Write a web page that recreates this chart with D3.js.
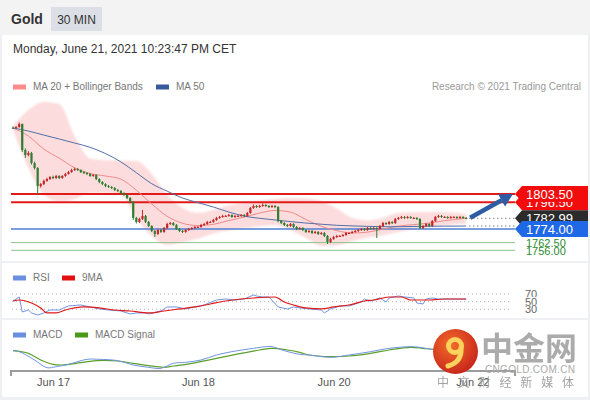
<!DOCTYPE html>
<html><head><meta charset="utf-8">
<script src="https://cdn.jsdelivr.net/npm/d3@7"></script>
<style>body{margin:0;background:#eef0f3;}svg{display:block;font-family:"Liberation Sans",Arial,sans-serif;}</style>
</head><body><svg id="c" width="590" height="400"></svg>
<script>
// ---------- DATA ----------
const open=[1859.5,1859.2,1860.0,1862.5,1840.6,1836.4,1838.1,1829.6,1825.4,1810.2,
1811.9,1814.5,1816.1,1817.8,1817.0,1818.7,1817.0,1818.7,1820.4,1822.0,
1823.7,1824.6,1823.7,1822.0,1821.2,1820.4,1818.7,1819.5,1816.1,1813.6,
1811.9,1810.2,1809.4,1808.6,1806.9,1806.0,1804.3,1802.7,1800.1,1796.8,
1783.3,1779.9,1782.4,1785.0,1779.9,1776.5,1772.3,1769.8,1773.1,1771.5,
1774.8,1778.2,1779.0,1777.4,1774.0,1772.3,1771.5,1773.1,1774.0,1774.8,
1775.7,1775.7,1777.4,1778.2,1779.9,1779.9,1781.6,1783.3,1784.1,1785.0,
1785.0,1785.8,1784.1,1785.0,1785.0,1785.8,1785.0,1787.5,1791.7,1793.4,
1792.5,1793.4,1794.2,1793.4,1792.5,1793.4,1792.5,1780.7,1779.0,1777.4,
1776.5,1778.2,1775.7,1774.0,1774.8,1773.1,1771.5,1772.3,1770.6,1771.5,
1769.8,1770.6,1768.1,1763.0,1765.6,1767.2,1768.1,1768.1,1768.9,1770.6,
1770.6,1771.5,1772.3,1773.1,1774.0,1773.1,1774.8,1774.0,1774.8,1774.0,
1776.5,1779.0,1778.2,1779.9,1779.0,1782.4,1783.3,1784.1,1783.3,1784.1,
1783.3,1783.3,1782.4,1774.8,1776.5,1778.2,1776.5,1780.7,1784.1,1785.0,
1784.1,1784.1,1783.3,1784.1,1784.1,1783.3,1784.1,1783.3];
const high=[1860.4,1860.8,1863.9,1863.0,1842.0,1839.6,1839.0,1830.8,1826.2,1812.8,
1815.6,1817.2,1818.6,1819.0,1819.6,1819.4,1819.5,1821.3,1823.0,1824.8,
1825.7,1825.4,1824.3,1822.9,1822.0,1821.1,1820.4,1820.1,1816.8,1814.4,
1812.6,1811.1,1810.2,1809.3,1807.7,1806.8,1805.0,1803.4,1800.9,1797.6,
1784.2,1783.5,1790.0,1785.8,1780.7,1777.2,1773.0,1774.0,1774.0,1775.7,
1779.2,1780.0,1779.8,1778.2,1774.8,1773.1,1774.0,1774.9,1775.7,1776.5,
1776.6,1778.3,1779.1,1780.8,1780.8,1782.5,1784.2,1785.0,1785.9,1785.9,
1786.7,1786.5,1785.9,1785.8,1786.6,1786.5,1788.4,1792.6,1794.6,1794.2,
1794.3,1795.5,1795.0,1794.1,1794.3,1794.2,1793.2,1781.5,1779.8,1778.2,
1779.1,1778.9,1776.5,1775.7,1775.6,1773.9,1773.2,1773.1,1772.4,1772.2,
1771.5,1771.4,1768.9,1766.5,1768.1,1769.0,1768.9,1769.8,1771.5,1771.4,
1772.4,1773.2,1774.0,1774.9,1774.8,1775.7,1775.6,1775.6,1775.5,1777.4,
1779.9,1779.8,1780.8,1780.6,1783.3,1784.2,1785.0,1784.9,1785.0,1784.9,
1784.1,1784.0,1783.1,1777.4,1779.1,1778.9,1781.6,1785.0,1785.9,1785.8,
1784.9,1784.8,1785.0,1784.9,1784.8,1785.0,1784.8,1784.0];
const low=[1858.4,1858.6,1859.5,1838.9,1833.9,1835.2,1828.4,1824.2,1803.5,1808.9,
1811.0,1813.8,1815.3,1816.0,1816.2,1816.1,1816.3,1818.0,1819.8,1821.4,
1823.0,1822.9,1821.2,1820.3,1819.5,1817.9,1818.0,1815.2,1812.6,1811.0,
1809.3,1808.6,1807.7,1806.0,1805.1,1803.4,1801.8,1799.2,1795.7,1781.6,
1778.6,1779.0,1781.6,1779.0,1775.6,1771.4,1767.2,1769.0,1770.6,1770.8,
1774.0,1777.4,1776.6,1773.1,1771.4,1770.6,1770.8,1772.3,1773.2,1774.0,
1774.8,1775.0,1776.6,1777.5,1779.0,1779.2,1780.9,1782.5,1783.4,1784.2,
1784.3,1783.3,1783.4,1784.1,1784.2,1784.1,1784.3,1786.8,1791.0,1791.7,
1791.8,1792.7,1792.6,1791.7,1791.8,1791.6,1779.6,1778.1,1776.5,1775.6,
1775.8,1774.8,1773.1,1773.2,1772.2,1770.6,1770.7,1769.7,1769.8,1768.9,
1769.0,1767.2,1761.3,1762.2,1764.8,1766.4,1767.3,1767.4,1768.2,1769.8,
1769.9,1770.8,1771.6,1772.4,1772.3,1772.4,1773.2,1773.3,1766.4,1773.3,
1775.8,1777.4,1777.5,1778.2,1778.3,1781.7,1782.6,1782.5,1782.6,1782.5,
1782.5,1781.6,1774.0,1774.0,1775.8,1775.6,1775.8,1780.0,1783.4,1783.3,
1783.3,1782.5,1782.6,1783.3,1782.5,1782.6,1782.5,1782.2];
const close=[1859.2,1860.0,1862.5,1840.6,1836.4,1838.1,1829.6,1825.4,1810.2,1811.9,
1814.5,1816.1,1817.8,1817.0,1818.7,1817.0,1818.7,1820.4,1822.0,1823.7,
1824.6,1823.7,1822.0,1821.2,1820.4,1818.7,1819.5,1816.1,1813.6,1811.9,
1810.2,1809.4,1808.6,1806.9,1806.0,1804.3,1802.7,1800.1,1796.8,1783.3,
1779.9,1782.4,1785.0,1779.9,1776.5,1772.3,1769.8,1773.1,1771.5,1774.8,
1778.2,1779.0,1777.4,1774.0,1772.3,1771.5,1773.1,1774.0,1774.8,1775.7,
1775.7,1777.4,1778.2,1779.9,1779.9,1781.6,1783.3,1784.1,1785.0,1785.0,
1785.8,1784.1,1785.0,1785.0,1785.8,1785.0,1787.5,1791.7,1793.4,1792.5,
1793.4,1794.2,1793.4,1792.5,1793.4,1792.5,1780.7,1779.0,1777.4,1776.5,
1778.2,1775.7,1774.0,1774.8,1773.1,1771.5,1772.3,1770.6,1771.5,1769.8,
1770.6,1768.1,1763.0,1765.6,1767.2,1768.1,1768.1,1768.9,1770.6,1770.6,
1771.5,1772.3,1773.1,1774.0,1773.1,1774.8,1774.0,1774.8,1774.0,1776.5,
1779.0,1778.2,1779.9,1779.0,1782.4,1783.3,1784.1,1783.3,1784.1,1783.3,
1783.3,1782.4,1774.8,1776.5,1778.2,1776.5,1780.7,1784.1,1785.0,1784.1,
1784.1,1783.3,1784.1,1784.1,1783.3,1784.1,1783.3,1782.99];

const maIdx=[0,5,10,15,20,25,30,35,40,45,50,55,60,65,70,75,80,85,90,95,100,105,110,115,120,125,130,135,140,145,147];
const ma20=[1859.2,1852.4,1841.4,1833.7,1825.6,1820.8,1818.7,1816.0,1806.7,1795.1,1784.7,1778.8,1776.8,1777.9,1781.1,1784.0,1787.4,1789.6,1788.2,1782.0,1776.2,1772.6,1770.6,1771.3,1773.9,1776.4,1777.7,1779.0,1781.0,1782.5,1783.3];
const ma50=[1859.2,1856.6,1853.2,1849.9,1846.5,1842.9,1837.6,1830.6,1821.5,1812.2,1805.9,1800.1,1796.2,1792.5,1788.3,1784.8,1783.0,1781.6,1780.2,1779.0,1778.0,1777.1,1776.6,1776.2,1775.9,1775.9,1776.1,1776.3,1776.4,1776.4,1776.5];
const bbUpper=[1860.8,1874.3,1881.1,1879.4,1852.4,1833.4,1831.9,1831.5,1831.3,1820.4,1802.7,1791.7,1787.6,1790.0,1794.0,1796.3,1798.0,1799.3,1800.1,1799.6,1797.4,1791.3,1783.3,1781.2,1783.4,1787.6,1788.1,1788.3,1788.2,1787.5,1786.6];
const bbLower=[1857.5,1825.4,1802.7,1797.3,1799.2,1804.3,1804.2,1803.0,1782.9,1768.1,1760.5,1762.8,1766.0,1770.2,1772.8,1774.5,1776.3,1777.2,1773.1,1766.4,1759.7,1760.1,1763.6,1766.7,1768.7,1771.5,1773.7,1775.3,1776.9,1778.1,1778.5];

const rsiIdx=[0,2,3,5,6,8,10,12,15,18,22,25,28,31,35,38,40,43,44,48,50,53,56,59,62,66,69,72,75,78,79,81,83,86,89,91,93,96,100,101,103,106,109,113,114,116,119,121,122,125,127,130,131,133,134,136,138,142,145,147];
const rsi=[51.7,62.2,23,28.2,20.4,15.2,20.4,28.2,28.2,38.7,41.3,36.1,30.9,28.2,25.6,17.8,20.4,20.4,17.8,25.6,36.1,36.1,30.9,36.1,41.3,54.3,56.9,54.3,56.9,67.4,64.8,62.2,62.2,36.1,30.9,36.1,33.5,30.9,28.2,20.4,30.9,38.7,38.7,49.1,56.9,51.7,59.6,49.1,59.6,64.8,62.2,59.6,46.5,43.9,56.9,59.6,56.9,56.9,56.9,56.9];
const rsiMaIdx=[0,2,6,9,11,14,17,20,23,28,33,38,44,49,54,59,64,69,74,78,85,88,91,95,100,104,109,114,117,122,126,129,132,135,140,145,147];
const rsiMa=[51.7,54.3,46.5,33.5,20.4,20.4,28.2,33.5,36.1,33.5,28.2,25.6,20.4,25.6,30.9,36.1,43.9,51.7,56.9,59.6,62.2,49.1,41.3,33.5,30.9,36.1,41.3,51.7,54.3,62.2,62.2,54.3,54.3,54.3,56.9,56.9,56.9];
const rsiLevels=[70,50,30];

const macdIdx=[0,2,7,11,14,18,24,28,34,39,44,48,52,56,61,66,71,78,82,84,88,93,96,103,109,116,122,129,132,136,141,147];
const macd=[0.2,-0.4,-5.4,-10.0,-9.4,-8.0,-5.0,-5.0,-5.8,-8.4,-9.8,-10.4,-7.4,-6.8,-5.4,-2.4,-0.4,1.6,2.6,2.6,0.2,-2.0,-2.4,-3.8,-2.4,-0.4,1.6,2.6,2.2,1.0,0.9,0.9];
const sigIdx=[0,5,9,13,16,22,27,34,39,44,49,52,58,66,74,80,84,89,93,96,103,109,116,122,129,133,136,141,147];
const signal=[0.2,-1.4,-5.4,-8.0,-8.4,-7.0,-5.8,-6.0,-7.4,-8.8,-9.8,-9.0,-7.4,-4.4,-1.4,0.6,1.6,0.6,-0.8,-2.4,-3.4,-3.0,-1.4,0.6,2.2,1.6,1.0,0.9,0.8];

const resistances=[1796.5,1803.5];
const pivot=1774.0;
const supports=[1762.5,1756.0];
const lastPrice=1782.99;
const xTicks=[13,60,104,149];
const xTickLabels=["Jun 17","Jun 18","Jun 20","Jun 22"];

// ---------- DRAW ----------
const svg=d3.select("#c");
const FF='"Liberation Sans",Arial,sans-serif';
svg.append("rect").attr("width",590).attr("height",400).attr("fill","#eef0f3");
svg.append("rect").attr("width",590).attr("height",35).attr("fill","#f3f3f4");
[[35,226],[263,55],[320,77]].forEach(p=>svg.append("rect").attr("x",2).attr("y",p[0]).attr("width",586).attr("height",p[1]).attr("fill","#fff"));

// header
svg.append("text").attr("x",11).attr("y",24).attr("font-size",14).attr("font-weight","bold").attr("fill","#333").text("Gold");
svg.append("rect").attr("x",51).attr("y",7).attr("width",51).attr("height",24).attr("fill","#dcdfe5");
svg.append("text").attr("x",76.5).attr("y",23.5).attr("text-anchor","middle").attr("font-size",12).attr("fill","#333").text("30 MIN");
svg.append("text").attr("x",13).attr("y",53).attr("font-size",12).attr("fill","#333").text("Monday, June 21, 2021 10:23:47 PM CET");

function legend(items,yb){items.forEach(it=>{
  svg.append("rect").attr("x",it.x).attr("y",yb-5.5).attr("width",13).attr("height",5).attr("fill",it.c);
  svg.append("text").attr("x",it.x+20).attr("y",yb).attr("font-size",10).attr("fill","#777").text(it.t);});}
legend([{x:13,c:"#ff8a8a",t:"MA 20 + Bollinger Bands"},{x:156,c:"#3a5b9b",t:"MA 50"}],90);
svg.append("text").attr("x",581).attr("y",90).attr("text-anchor","end").attr("font-size",10).attr("fill","#999").text("Research \u00a9 2021 Trading Central");
legend([{x:13,c:"#6a8fe0",t:"RSI"},{x:62,c:"#e41010",t:"9MA"}],281);
legend([{x:13,c:"#6a8fe0",t:"MACD"},{x:75,c:"#4a9a1a",t:"MACD Signal"}],338);

const x=d3.scaleLinear().domain([0,147]).range([13,466.2]);
const y=d3.scaleLinear().domain([1756,1803.5]).range([250.3,194]);
const yR=d3.scaleLinear().domain([30,70]).range([309.3,294]);
const yM=d3.scaleLinear().domain([-12,6]).range([371,341]);
const L=11,R=515;

// bollinger band
const defs=svg.append("defs");
defs.append("filter").attr("id","soft").append("feGaussianBlur").attr("stdDeviation",1.2);
const band=maIdx.map((i,k)=>({i,hi:bbUpper[k],lo:bbLower[k]}));
svg.append("path").datum(band).attr("fill","#fcdcdc").attr("filter","url(#soft)")
  .attr("d",d3.area().x(d=>x(d.i)).y0(d=>y(d.lo)).y1(d=>y(d.hi)).curve(d3.curveMonotoneX));

// level lines
supports.forEach(v=>svg.append("line").attr("x1",L).attr("x2",R).attr("y1",y(v)).attr("y2",y(v)).attr("stroke","#8cc48c").attr("stroke-width",1));
svg.append("line").attr("x1",L).attr("x2",R).attr("y1",y(pivot)).attr("y2",y(pivot)).attr("stroke","#4f7fd2").attr("stroke-width",1.5);
resistances.forEach(v=>svg.append("line").attr("x1",L).attr("x2",R).attr("y1",y(v)).attr("y2",y(v)).attr("stroke","#e31a1a").attr("stroke-width",2));

// MAs
const maLine=d3.line().x(d=>x(d[0])).y(d=>y(d[1])).curve(d3.curveMonotoneX);
svg.append("path").datum(maIdx.map((i,k)=>[i,ma20[k]])).attr("fill","none").attr("stroke","#f08a8a").attr("stroke-width",1).attr("d",maLine);
svg.append("path").datum(maIdx.map((i,k)=>[i,ma50[k]])).attr("fill","none").attr("stroke","#5470a8").attr("stroke-width",1).attr("d",maLine);

// candles
const candles=close.map((c,i)=>({i,o:open[i],h:high[i],l:low[i],c}));
const cg=svg.append("g");
candles.forEach(d=>{
  const col=d.c>=d.o?"#c62828":"#2e7d32";
  cg.append("line").attr("x1",x(d.i)).attr("x2",x(d.i)).attr("y1",y(d.h)).attr("y2",y(d.l)).attr("stroke",col).attr("stroke-width",1);
  const top=y(Math.max(d.o,d.c)),bot=y(Math.min(d.o,d.c));
  cg.append("rect").attr("x",x(d.i)-1.1).attr("y",top).attr("width",2.2).attr("height",Math.max(1,bot-top)).attr("fill",col);
});

// dotted lines to the right
const xe=x(147)+3;
[lastPrice,ma50[ma50.length-1]].forEach(v=>svg.append("line").attr("x1",xe).attr("x2",R).attr("y1",y(v)).attr("y2",y(v)).attr("stroke","#666").attr("stroke-dasharray","1.2,2.8"));

// target arrow
(function(){
  const S=[x(147)+4,y(lastPrice)-0.5],T=[513,y(resistances[1])];
  const dx=T[0]-S[0],dy=T[1]-S[1],len=Math.hypot(dx,dy),u=[dx/len,dy/len],n=[-u[1],u[0]];
  const B=[T[0]-13*u[0],T[1]-13*u[1]];
  svg.append("line").attr("x1",S[0]).attr("y1",S[1]).attr("x2",B[0]).attr("y2",B[1]).attr("stroke","#2d5ca4").attr("stroke-width",4.5);
  svg.append("path").attr("d",`M${T}L${B[0]+7*n[0]},${B[1]+7*n[1]}L${B[0]-7*n[0]},${B[1]-7*n[1]}Z`).attr("fill","#2d5ca4");
})();

// tags
function tag(v,fill,label){const yc=y(v);
  svg.append("path").attr("d",`M${R},${yc}L522,${yc-8}H588V${yc+8}H522Z`).attr("fill",fill);
  svg.append("text").attr("x",526).attr("y",yc+4.6).attr("font-size",13).attr("fill","#fff").text(label);}
tag(resistances[0],"#f20c0c",resistances[0].toFixed(2));
tag(resistances[1],"#f20c0c",resistances[1].toFixed(2));
tag(lastPrice,"#2b2b2b",lastPrice.toFixed(2));
tag(pivot,"#1f68e6",pivot.toFixed(2));
supports.forEach(v=>svg.append("text").attr("x",526).attr("y",y(v)+4.8).attr("font-size",11).attr("fill","#2e8b2e").text(v.toFixed(2)));

// RSI panel
rsiLevels.forEach(v=>svg.append("line").attr("x1",12).attr("x2",512).attr("y1",yR(v)).attr("y2",yR(v)).attr("stroke","#b5b5b5").attr("stroke-dasharray","1,3"));
rsiLevels.forEach(v=>{
  svg.append("rect").attr("x",523).attr("y",yR(v)-4.5).attr("width",16).attr("height",9).attr("fill","#fff");
  svg.append("text").attr("x",525).attr("y",yR(v)+4).attr("font-size",11).attr("fill","#666").text(v);});
const rl=d3.line().x(d=>x(d[0])).y(d=>yR(d[1]));
svg.append("path").datum(rsiIdx.map((i,k)=>[i,rsi[k]])).attr("fill","none").attr("stroke","#7094e0").attr("stroke-width",1).attr("d",rl);
svg.append("path").datum(rsiMaIdx.map((i,k)=>[i,rsiMa[k]])).attr("fill","none").attr("stroke","#e01818").attr("stroke-width",1.2).attr("d",rl.curve(d3.curveMonotoneX));

// MACD panel
const ml=d3.line().x(d=>x(d[0])).y(d=>yM(d[1])).curve(d3.curveCatmullRom);
svg.append("path").datum(sigIdx.map((i,k)=>[i,signal[k]])).attr("fill","none").attr("stroke","#5aa02a").attr("stroke-width",1.2).attr("d",ml);
svg.append("path").datum(macdIdx.map((i,k)=>[i,macd[k]])).attr("fill","none").attr("stroke","#7094e0").attr("stroke-width",1).attr("d",ml);

// x axis
svg.append("path").attr("d",`M${L},376V371H${R}V376`).attr("fill","none").attr("stroke","#9c9c9c").attr("stroke-width",2);
const ax=d3.axisBottom(x).tickValues(xTicks).tickFormat((d,i)=>xTickLabels[i]).tickSize(0).tickPadding(7);
const ag=svg.append("g").attr("transform","translate(0,371)").call(ax);
ag.select(".domain").remove();
ag.attr("font-family",FF).attr("font-size",11);
ag.selectAll("text").attr("fill","#555");

// watermark
const grad=defs.append("radialGradient").attr("id","lg").attr("cx","40%").attr("cy","35%").attr("r","70%");
grad.append("stop").attr("offset","0%").attr("stop-color","#f36a2a");
grad.append("stop").attr("offset","100%").attr("stop-color","#c5241b");
const wm=svg.append("g");
wm.append("circle").attr("cx",455.5).attr("cy",351.5).attr("r",22.5).attr("fill","url(#lg)");
wm.append("circle").attr("cx",455).attr("cy",346).attr("r",6.5).attr("fill","none").attr("stroke","#fbd25c").attr("stroke-width",5);
wm.append("path").attr("d","M461,348 Q462,362 448,366").attr("fill","none").attr("stroke","#fbd25c").attr("stroke-width",5).attr("stroke-linecap","round");
wm.append("text").attr("x",481).attr("y",360).attr("font-family","Noto Sans CJK SC").attr("font-weight","bold").attr("font-size",32).attr("fill","#a3a3a3").attr("opacity",0.9).text("中金网");
wm.append("text").attr("x",485).attr("y",373).attr("font-size",10).attr("fill","#aaa").attr("textLength",90).text("CNGOLD.COM.CN");
wm.append("text").attr("x",437).attr("y",387).attr("font-family","Noto Sans CJK SC").attr("font-size",12).attr("fill","#999").attr("opacity",0.9).attr("textLength",137).text("中文财经新媒体");
</script></body></html>
